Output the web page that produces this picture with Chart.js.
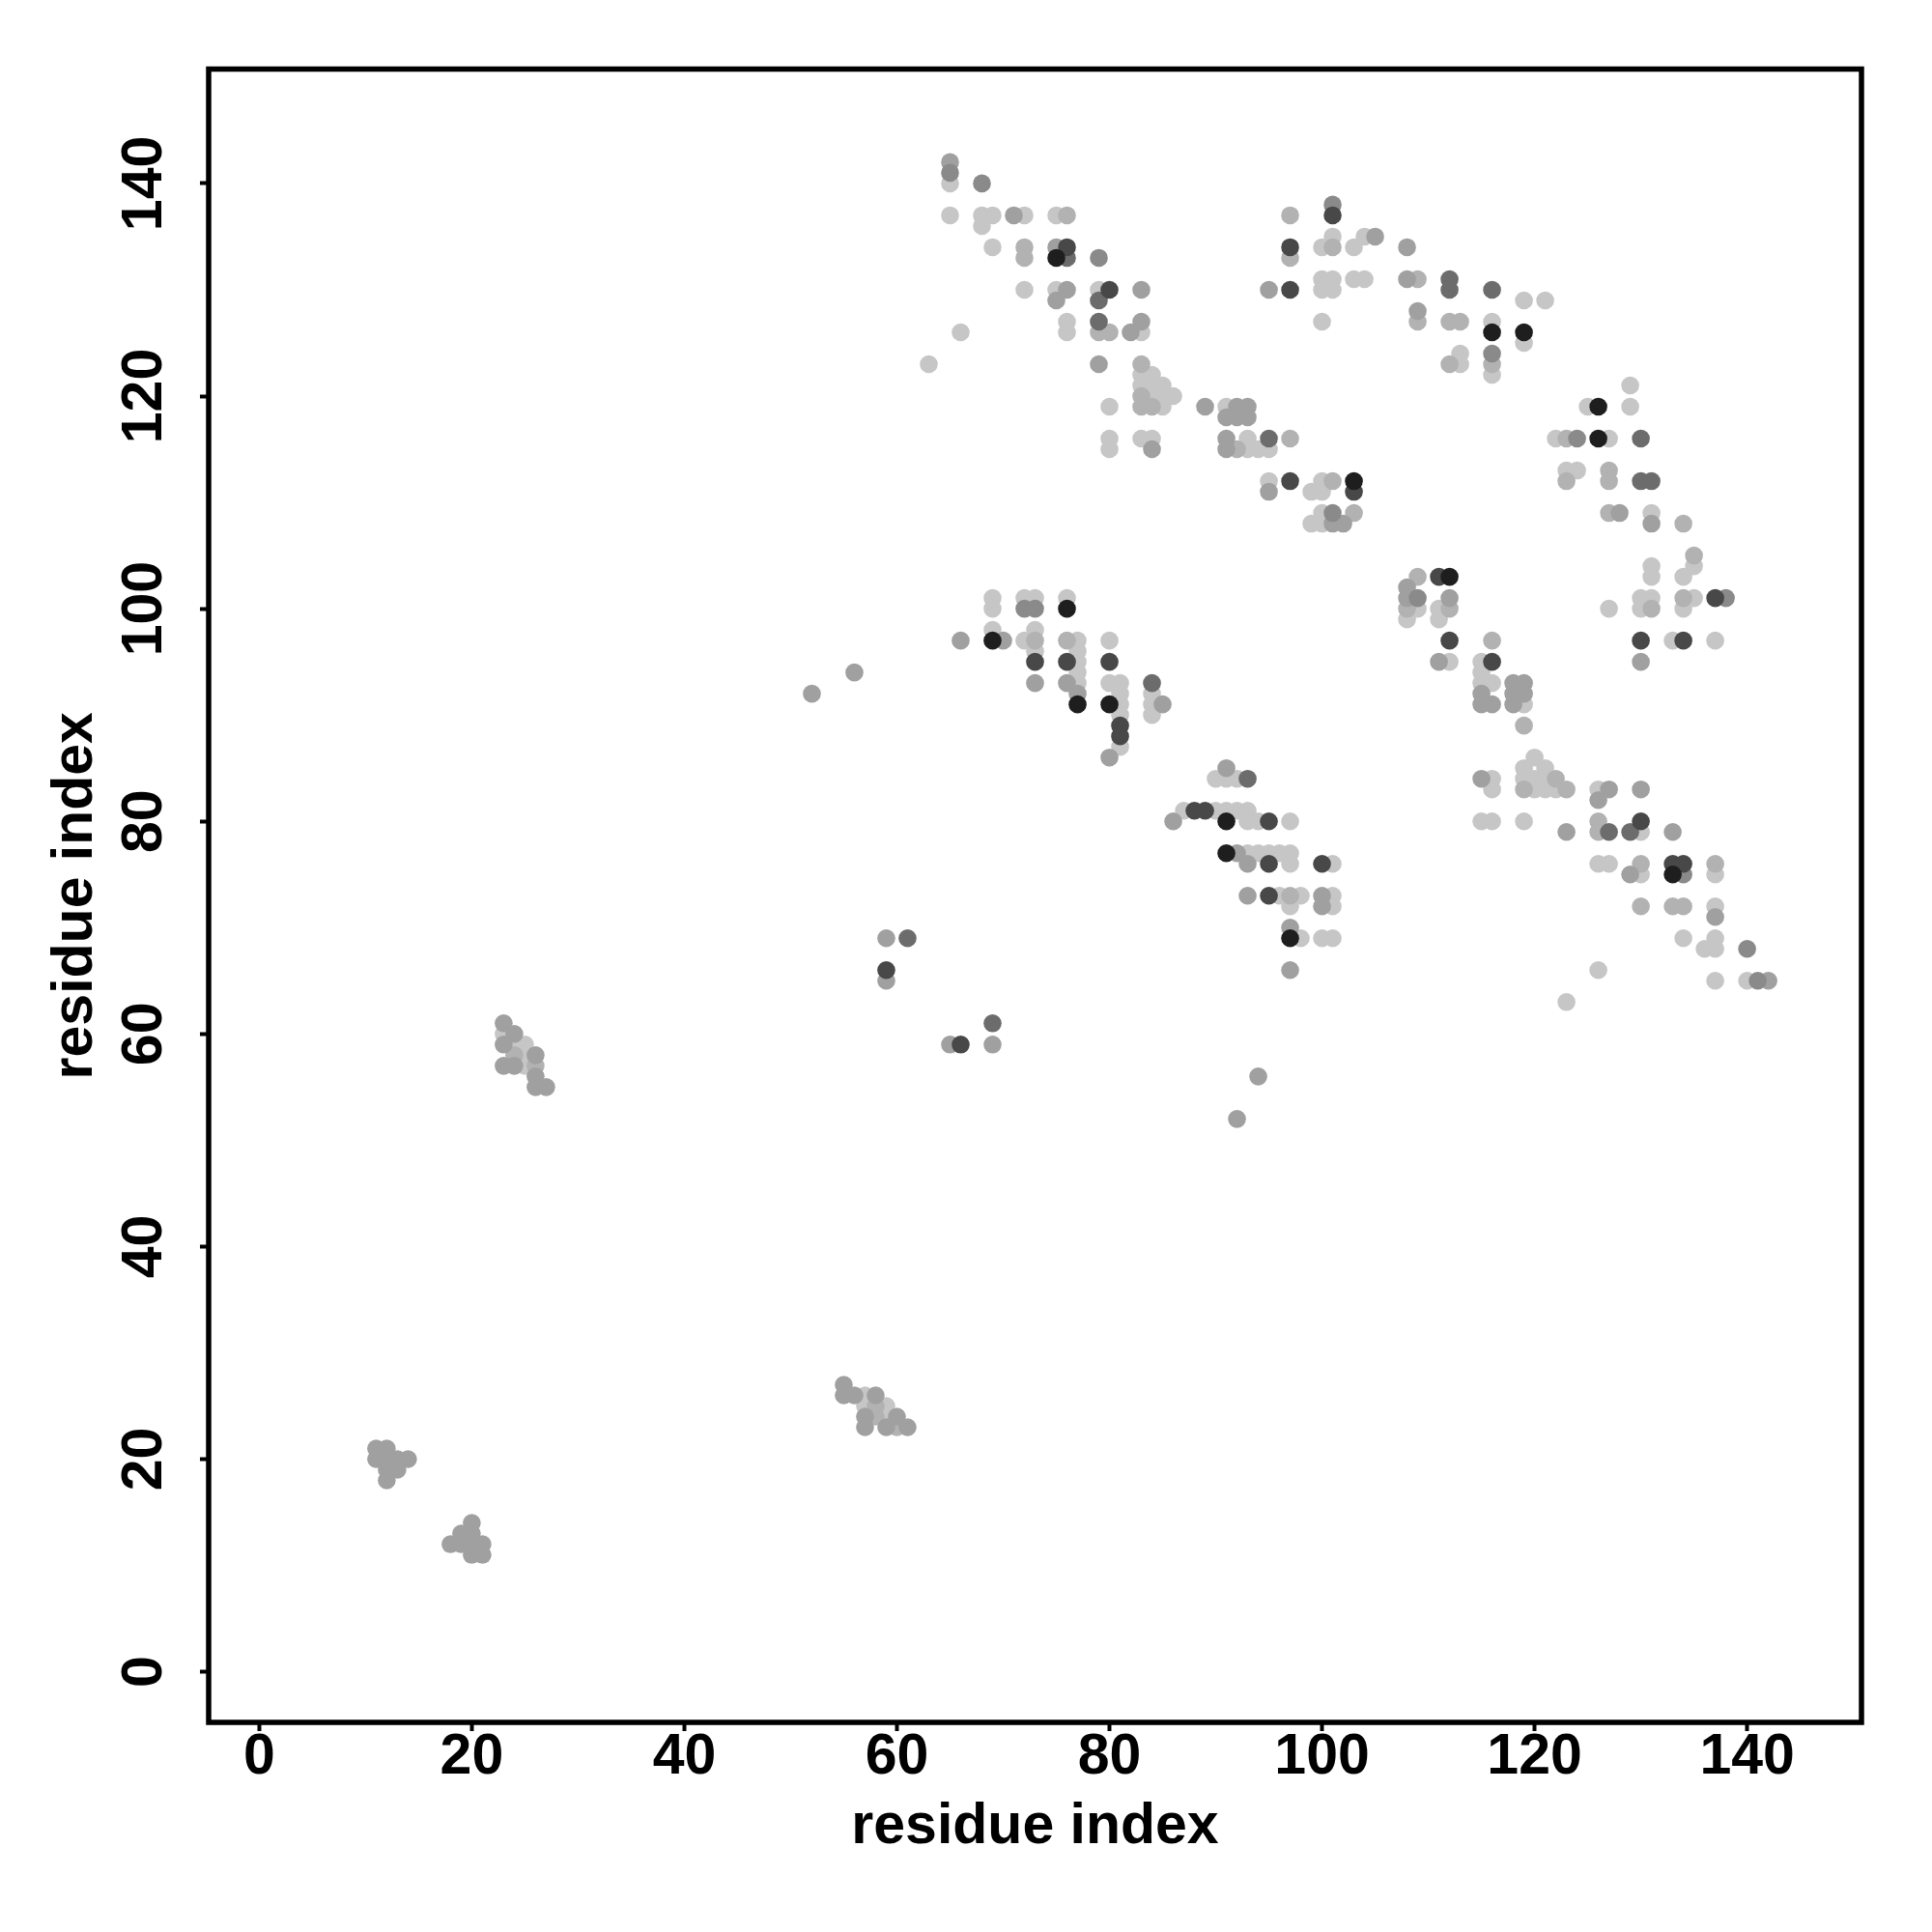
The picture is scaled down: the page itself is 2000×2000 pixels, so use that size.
<!DOCTYPE html>
<html lang="en">
<head>
    <meta charset="UTF-8">
    <script src="https://cdn.jsdelivr.net/npm/chart.js"></script>
    <title>Residue contact map</title>
    <style>
        body { margin: 0; background: #fff; }
    </style>
</head>
<body>

<canvas id="contactChart" width="2000" height="2000"></canvas>

<script>
    // residue pairs (i on x, j on y), with contact strength 1 (faint) .. 7 (strong)
    var resI = [
        11, 12, 11, 12, 13, 14, 12, 13, 12,
        20, 19, 20, 18, 19, 20, 21, 20, 21,
        23, 24, 23, 23, 24, 25, 24, 25, 26, 23, 24, 25, 26, 26, 26, 27,
        55, 55, 56, 57, 58, 57, 58, 59, 57, 58, 59, 60, 57, 59, 60, 61,
        52, 56, 59, 61, 59, 59, 65, 66, 69, 69, 94, 92, 123, 126, 97,
        65, 65, 65, 65, 68, 68, 69, 68, 69, 71, 72, 72, 72, 72, 75, 76, 75, 76, 75, 76,
        75, 76, 75, 76, 76, 79, 79, 80, 79, 79, 79, 80, 79, 82, 83, 83, 83, 63, 66,
        83, 83, 84, 83, 84, 85, 83, 84, 85, 86, 83, 84, 85, 80, 80, 80, 83, 84, 84,
        89, 91, 92, 93, 91, 92, 93, 91, 91, 92, 93, 93, 94, 95, 95, 97, 95, 95, 97,
        99, 100, 100, 101, 103, 103, 100, 101, 103, 99, 100, 101, 102,
        97, 101, 101, 97, 97, 100, 101, 101, 103, 104, 105, 108, 95, 97, 100, 101, 100, 101, 103, 104, 108,
        109, 112, 112, 100, 109, 109, 112, 113, 116, 119, 121, 116, 116, 119, 119, 113, 112, 113, 116, 116, 116,
        129, 125, 126, 129, 122, 123, 124, 126, 127, 130, 123, 124, 123, 127, 127, 130, 131, 127, 128, 131, 131,
        134, 135, 135, 134, 131, 131, 130, 131, 130, 131, 127, 134, 135, 134, 137, 138, 130, 130, 133, 134, 137,
        69, 69, 72, 73, 72, 73, 76, 76, 69, 69, 66, 70, 72, 73, 73, 73, 73, 73, 76, 77, 76, 77, 77,
        77, 77, 76, 77, 77, 80, 80, 80, 81, 80, 81, 81, 81, 81, 81, 81, 80, 84, 84, 84, 85, 84,
        109, 111, 112, 108, 108, 109, 108, 109, 108, 111, 112, 112, 111, 112, 111, 112, 116, 116, 115, 115, 115, 116, 115, 115, 116, 118,
        119, 118, 119, 118, 119, 119, 120, 119, 121, 119, 120, 121, 122, 119, 120, 121, 122, 123, 115, 116, 116, 115, 116, 119,
        126, 127, 126, 130, 123, 126, 126, 127, 129, 130, 130, 133, 126, 127, 130, 129, 130, 133, 134, 133, 134, 137, 137, 130, 133, 134, 137, 137, 134, 137, 136, 137, 140, 137, 140, 141, 142,
        91, 90, 91, 92, 93, 87, 88, 89, 90, 91, 92, 93, 86, 91, 93, 94, 95, 97, 91, 92, 93, 94, 95, 96, 97, 93, 95, 97, 100, 101, 93, 95, 96, 97, 98, 100, 101, 97, 100, 101, 97, 97, 98, 100, 101
    ];
    var resJ = [
        21, 21, 20, 20, 20, 20, 19, 19, 18,
        14, 13, 13, 12, 12, 12, 12, 11, 11,
        61, 60, 60, 59, 59, 59, 58, 58, 58, 57, 57, 57, 57, 56, 55, 55,
        27, 26, 26, 26, 26, 25, 25, 25, 24, 24, 24, 24, 23, 23, 23, 23,
        92, 94, 69, 69, 66, 65, 59, 59, 61, 59, 56, 52, 63, 66, 66,
        142, 141, 140, 137, 140, 137, 137, 136, 134, 137, 137, 134, 133, 130, 137, 137, 134, 134, 133, 133,
        130, 130, 129, 127, 126, 133, 130, 130, 129, 127, 126, 126, 123, 126, 127, 126, 130, 123, 126,
        123, 122, 122, 121, 121, 121, 120, 120, 120, 120, 119, 119, 119, 119, 116, 115, 116, 116, 115,
        119, 119, 119, 119, 118, 118, 118, 116, 115, 115, 116, 115, 115, 116, 115, 116, 112, 111, 112,
        111, 112, 111, 112, 112, 111, 109, 109, 109, 108, 108, 108, 108,
        137, 138, 137, 134, 133, 134, 135, 134, 134, 135, 135, 134, 130, 130, 131, 131, 130, 130, 131, 131, 131,
        131, 131, 130, 127, 128, 127, 127, 127, 130, 129, 129, 127, 126, 126, 125, 124, 123, 123, 124, 123, 122,
        121, 119, 119, 119, 116, 116, 116, 116, 116, 116, 113, 113, 112, 113, 112, 112, 112, 109, 109, 109, 108,
        108, 105, 104, 103, 104, 103, 101, 101, 100, 100, 100, 101, 101, 100, 101, 101, 97, 95, 97, 97, 97,
        101, 100, 101, 101, 100, 100, 101, 100, 98, 97, 97, 97, 97, 98, 97, 96, 95, 93, 97, 97, 95, 96, 95,
        94, 93, 93, 92, 91, 97, 95, 93, 93, 91, 92, 91, 90, 89, 88, 87, 86, 93, 92, 91, 91, 90,
        103, 103, 103, 102, 101, 101, 100, 100, 99, 100, 101, 100, 99, 97, 95, 95, 97, 95, 95, 94, 93, 93, 92, 91, 91, 93,
        93, 92, 92, 91, 91, 89, 86, 85, 85, 84, 84, 84, 84, 83, 83, 83, 83, 83, 84, 84, 83, 80, 80, 80,
        83, 83, 82, 83, 79, 80, 79, 79, 79, 80, 79, 79, 76, 76, 76, 75, 75, 76, 76, 75, 75, 76, 75, 72, 72, 72, 72, 71, 69, 69, 68, 68, 68, 65, 65, 65, 65,
        85, 84, 84, 84, 84, 81, 81, 81, 81, 81, 81, 81, 80, 80, 80, 80, 80, 80, 77, 77, 77, 77, 77, 77, 77, 76, 76, 76, 76, 76, 73, 73, 73, 73, 73, 73, 73, 72, 72, 72, 70, 69, 69, 69, 69
    ];
    var strength = [
        3, 3, 3, 3, 3, 3, 3, 3, 3,
        3, 3, 3, 3, 3, 3, 3, 3, 3,
        3, 3, 1, 3, 1, 1, 2, 1, 3, 3, 3, 1, 2, 3, 3, 3,
        3, 3, 3, 1, 3, 1, 2, 1, 3, 2, 1, 3, 3, 3, 2, 3,
        3, 3, 3, 5, 6, 3, 3, 6, 5, 3, 3, 3, 1, 1, 3,
        3, 4, 1, 1, 4, 1, 1, 1, 1, 3, 1, 2, 2, 1, 1, 2, 3, 6, 7, 5,
        1, 3, 3, 1, 1, 4, 1, 6, 5, 5, 2, 2, 3, 3, 3, 1, 3, 1, 1,
        2, 1, 1, 1, 1, 1, 2, 1, 1, 1, 2, 2, 1, 1, 1, 1, 1, 1, 3,
        3, 1, 3, 3, 3, 3, 3, 3, 3, 2, 1, 1, 1, 5, 1, 2, 1, 3, 6,
        1, 1, 1, 2, 7, 6, 1, 4, 2, 1, 1, 3, 3,
        2, 4, 6, 6, 2, 1, 1, 2, 1, 1, 3, 3, 3, 6, 1, 1, 1, 1, 1, 1, 3,
        2, 5, 5, 1, 3, 2, 2, 2, 5, 1, 1, 1, 7, 7, 1, 1, 2, 1, 4, 2, 1,
        1, 1, 7, 1, 1, 2, 4, 7, 1, 5, 1, 1, 2, 2, 2, 5, 5, 2, 3, 1, 3,
        2, 2, 1, 1, 1, 1, 1, 1, 1, 2, 1, 2, 1, 1, 6, 4, 6, 3, 1, 6, 1,
        1, 1, 1, 1, 4, 4, 1, 7, 1, 7, 3, 3, 1, 1, 2, 1, 6, 3, 2, 1, 6, 1, 1,
        1, 1, 3, 3, 7, 1, 6, 1, 1, 7, 1, 1, 1, 6, 6, 1, 3, 5, 1, 1, 3, 1,
        2, 6, 7, 3, 3, 4, 2, 1, 1, 1, 3, 2, 1, 6, 3, 1, 2, 6, 1, 1, 1, 1, 3, 3, 3, 3,
        3, 3, 3, 3, 1, 2, 1, 1, 1, 1, 1, 1, 2, 2, 1, 1, 1, 2, 3, 1, 1, 1, 1, 1,
        1, 3, 3, 3, 3, 2, 2, 5, 5, 6, 1, 3, 1, 1, 2, 3, 1, 6, 6, 7, 4, 2, 1, 2, 2, 2, 1, 3, 1, 1, 1, 1, 4, 1, 1, 4, 3,
        3, 1, 1, 1, 5, 1, 6, 6, 1, 1, 1, 1, 3, 7, 1, 1, 6, 1, 7, 3, 1, 1, 1, 1, 1, 3, 6, 1, 6, 1, 3, 6, 1, 2, 1, 3, 1, 1, 3, 1, 3, 7, 1, 1, 1
    ];
    var tickValues = [0, 20, 40, 60, 80, 100, 120, 140];
    var axisMin = -4.76, axisMax = 150.76;

    // grey levels, faint -> strong
    var greys = ['#c6c6c6', '#b2b2b2', '#a0a0a0', '#8a8a8a', '#6c6c6c', '#484848', '#1e1e1e'];

    if (resI.length !== resJ.length || resI.length !== strength.length) {
        console.log('length mismatch', resI.length, resJ.length, strength.length);
    }

    // stronger contacts are drawn last so they sit on top
    var order = resI.map(function (v, k) { return k; });
    order.sort(function (a, b) { return strength[a] - strength[b]; });
    var points = order.map(function (k) { return {x: resI[k], y: resJ[k]}; });
    var colors = order.map(function (k) { return greys[strength[k] - 1]; });

    var boxPlugin = {
        id: 'box',
        afterDatasetsDraw: function (chart) {
            var a = chart.chartArea;
            var ctx = chart.ctx;
            ctx.save();
            ctx.strokeStyle = '#000';
            ctx.lineWidth = 5.5;
            ctx.strokeRect(a.left, a.top, a.right - a.left, a.bottom - a.top);
            ctx.restore();
        }
    };

    var tickFont = {family: 'Liberation Sans', size: 59, weight: 'bold', lineHeight: 1};
    var titleFont = {family: 'Liberation Sans', size: 59, weight: 'bold', lineHeight: 1.2};

    function setTicks(scale) {
        scale.ticks = tickValues.map(function (v) { return {value: v}; });
    }

    var ctx = document.getElementById('contactChart').getContext('2d');
    new Chart(ctx, {
        type: 'scatter',
        data: {
            datasets: [{
                data: points,
                pointBackgroundColor: colors,
                pointBorderWidth: 0,
                pointRadius: 9.3,
                pointHoverRadius: 9.3
            }]
        },
        options: {
            responsive: false,
            animation: false,
            devicePixelRatio: 1,
            layout: {padding: {top: 71.5, right: 73, left: 0, bottom: 0}},
            plugins: {legend: {display: false}, tooltip: {enabled: false}},
            scales: {
                x: {
                    type: 'linear',
                    min: axisMin,
                    max: axisMax,
                    afterBuildTicks: setTicks,
                    afterFit: function (scale) { scale.height = 217; },
                    border: {display: false},
                    grid: {drawOnChartArea: false, drawTicks: true, tickLength: 9, tickWidth: 4, tickColor: '#000'},
                    ticks: {font: tickFont, color: '#000', padding: -2, autoSkip: false, maxRotation: 0},
                    title: {display: true, text: 'residue index', font: titleFont, color: '#000', padding: {top: 0, bottom: 72.6}}
                },
                y: {
                    type: 'linear',
                    min: axisMin,
                    max: axisMax,
                    afterBuildTicks: setTicks,
                    afterFit: function (scale) { scale.width = 216; },
                    border: {display: false},
                    grid: {drawOnChartArea: false, drawTicks: true, tickLength: 9, tickWidth: 4, tickColor: '#000'},
                    ticks: {font: tickFont, color: '#000', padding: 7, autoSkip: false, minRotation: 90, maxRotation: 90, crossAlign: 'center'},
                    title: {display: true, text: 'residue index', font: titleFont, color: '#000', padding: {top: 43.6, bottom: 0}}
                }
            }
        },
        plugins: [boxPlugin]
    });
</script>

</body>
</html>
